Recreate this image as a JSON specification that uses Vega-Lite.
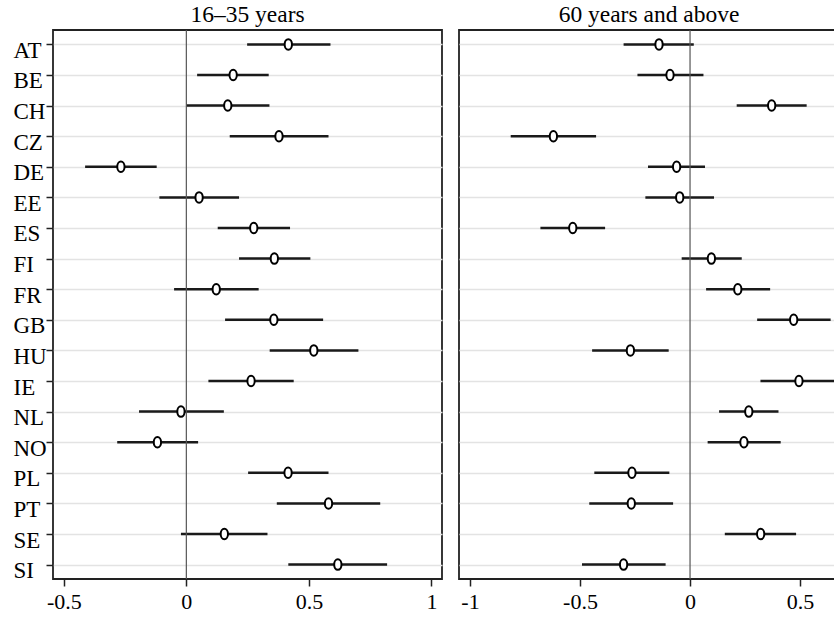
{
  "$schema": "https://vega.github.io/schema/vega-lite/v6.json",
  "padding": {"left": 12, "top": 2, "right": 0, "bottom": 0},
  "background": "white",
  "config": {
    "font": "Liberation Serif",
    "view": {"stroke": "#222222", "strokeWidth": 1.8},
    "title": {"font": "Liberation Serif", "fontSize": 23.5, "fontWeight": "normal", "color": "#000000", "offset": 3},
    "axis": {
      "labelFont": "Liberation Serif", "labelFontSize": 22, "labelColor": "#000000",
      "tickColor": "#222222", "tickWidth": 1.5, "domain": false, "title": null,
      "gridColor": "#e3e3e3", "gridWidth": 1.3
    }
  },
  "datasets": {
    "est": [
      {"country": "AT", "group": "young", "est": 0.416, "lo": 0.248, "hi": 0.588},
      {"country": "BE", "group": "young", "est": 0.191, "lo": 0.044, "hi": 0.336},
      {"country": "CH", "group": "young", "est": 0.169, "lo": 0.0, "hi": 0.339},
      {"country": "CZ", "group": "young", "est": 0.378, "lo": 0.177, "hi": 0.580},
      {"country": "DE", "group": "young", "est": -0.267, "lo": -0.413, "hi": -0.121},
      {"country": "EE", "group": "young", "est": 0.052, "lo": -0.110, "hi": 0.215},
      {"country": "ES", "group": "young", "est": 0.275, "lo": 0.128, "hi": 0.423},
      {"country": "FI", "group": "young", "est": 0.359, "lo": 0.215, "hi": 0.506},
      {"country": "FR", "group": "young", "est": 0.122, "lo": -0.050, "hi": 0.295},
      {"country": "GB", "group": "young", "est": 0.357, "lo": 0.158, "hi": 0.558},
      {"country": "HU", "group": "young", "est": 0.520, "lo": 0.340, "hi": 0.702},
      {"country": "IE", "group": "young", "est": 0.264, "lo": 0.090, "hi": 0.438},
      {"country": "NL", "group": "young", "est": -0.022, "lo": -0.193, "hi": 0.153},
      {"country": "NO", "group": "young", "est": -0.118, "lo": -0.282, "hi": 0.048},
      {"country": "PL", "group": "young", "est": 0.415, "lo": 0.252, "hi": 0.580},
      {"country": "PT", "group": "young", "est": 0.580, "lo": 0.369, "hi": 0.791},
      {"country": "SE", "group": "young", "est": 0.155, "lo": -0.022, "hi": 0.331},
      {"country": "SI", "group": "young", "est": 0.618, "lo": 0.416, "hi": 0.819},
      {"country": "AT", "group": "old", "est": -0.141, "lo": -0.302, "hi": 0.017},
      {"country": "BE", "group": "old", "est": -0.091, "lo": -0.239, "hi": 0.061},
      {"country": "CH", "group": "old", "est": 0.371, "lo": 0.212, "hi": 0.530},
      {"country": "CZ", "group": "old", "est": -0.621, "lo": -0.815, "hi": -0.427},
      {"country": "DE", "group": "old", "est": -0.061, "lo": -0.191, "hi": 0.068},
      {"country": "EE", "group": "old", "est": -0.047, "lo": -0.203, "hi": 0.109},
      {"country": "ES", "group": "old", "est": -0.533, "lo": -0.680, "hi": -0.386},
      {"country": "FI", "group": "old", "est": 0.097, "lo": -0.038, "hi": 0.235},
      {"country": "FR", "group": "old", "est": 0.217, "lo": 0.073, "hi": 0.364},
      {"country": "GB", "group": "old", "est": 0.471, "lo": 0.305, "hi": 0.639},
      {"country": "HU", "group": "old", "est": -0.271, "lo": -0.445, "hi": -0.097},
      {"country": "IE", "group": "old", "est": 0.495, "lo": 0.320, "hi": 0.680},
      {"country": "NL", "group": "old", "est": 0.267, "lo": 0.132, "hi": 0.402},
      {"country": "NO", "group": "old", "est": 0.245, "lo": 0.080, "hi": 0.412},
      {"country": "PL", "group": "old", "est": -0.264, "lo": -0.435, "hi": -0.094},
      {"country": "PT", "group": "old", "est": -0.267, "lo": -0.458, "hi": -0.077},
      {"country": "SE", "group": "old", "est": 0.321, "lo": 0.158, "hi": 0.482},
      {"country": "SI", "group": "old", "est": -0.302, "lo": -0.491, "hi": -0.111}
    ],
    "zero": [{"v": 0}]
  },
  "spacing": 15,
  "hconcat": [
    {
      "title": "16–35 years",
      "width": 389,
      "height": 549,
      "layer": [
        {
          "data": {"name": "est"},
          "transform": [{"filter": "datum.group == 'young'"}],
          "mark": {"type": "rule", "color": "#1a1a1a", "strokeWidth": 2.5},
          "encoding": {
            "x": {"field": "lo", "type": "quantitative",
                  "scale": {"domain": [-0.544, 1.043], "nice": false, "zero": false},
                  "axis": {"values": [-0.5, 0, 0.5, 1], "grid": false, "tickSize": 7, "labelPadding": 5, "labelExpr": "'' + datum.value"}},
            "x2": {"field": "hi"},
            "y": {"field": "country", "type": "nominal", "sort": null,
                  "scale": {"type": "point", "padding": 0.47},
                  "axis": {"grid": true, "ticks": true, "tickSize": 7, "labelFontSize": 23, "labelAlign": "left", "labelPadding": 33, "labelBaseline": "middle", "labelOffset": 6}}
          }
        },
        {
          "data": {"name": "zero"},
          "mark": {"type": "rule", "color": "#555555", "strokeWidth": 1.2},
          "encoding": {
            "x": {"field": "v", "type": "quantitative",
                  "scale": {"domain": [-0.544, 1.043], "nice": false, "zero": false}}
          }
        },
        {
          "data": {"name": "est"},
          "transform": [{"filter": "datum.group == 'young'"}],
          "mark": {"type": "point", "shape": "M0,-1 A0.7,1 0 1,1 0,1 A0.7,1 0 1,1 0,-1 Z", "size": 110, "filled": false, "fill": "white", "fillOpacity": 1, "stroke": "#000000", "strokeWidth": 2, "opacity": 1},
          "encoding": {
            "x": {"field": "est", "type": "quantitative",
                  "scale": {"domain": [-0.544, 1.043], "nice": false, "zero": false}},
            "y": {"field": "country", "type": "nominal", "sort": null,
                  "scale": {"type": "point", "padding": 0.47}}
          }
        }
      ]
    },
    {
      "title": "60 years and above",
      "width": 380,
      "height": 549,
      "layer": [
        {
          "data": {"name": "est"},
          "transform": [{"filter": "datum.group == 'old'"}],
          "mark": {"type": "rule", "color": "#1a1a1a", "strokeWidth": 2.5},
          "encoding": {
            "x": {"field": "lo", "type": "quantitative",
                  "scale": {"domain": [-1.05, 0.677], "nice": false, "zero": false},
                  "axis": {"values": [-1, -0.5, 0, 0.5], "grid": false, "tickSize": 7, "labelPadding": 5, "labelExpr": "'' + datum.value"}},
            "x2": {"field": "hi"},
            "y": {"field": "country", "type": "nominal", "sort": null,
                  "scale": {"type": "point", "padding": 0.47},
                  "axis": {"grid": true, "ticks": false, "labels": false}}
          }
        },
        {
          "data": {"name": "zero"},
          "mark": {"type": "rule", "color": "#555555", "strokeWidth": 1.2},
          "encoding": {
            "x": {"field": "v", "type": "quantitative",
                  "scale": {"domain": [-1.05, 0.677], "nice": false, "zero": false}}
          }
        },
        {
          "data": {"name": "est"},
          "transform": [{"filter": "datum.group == 'old'"}],
          "mark": {"type": "point", "shape": "M0,-1 A0.7,1 0 1,1 0,1 A0.7,1 0 1,1 0,-1 Z", "size": 110, "filled": false, "fill": "white", "fillOpacity": 1, "stroke": "#000000", "strokeWidth": 2, "opacity": 1},
          "encoding": {
            "x": {"field": "est", "type": "quantitative",
                  "scale": {"domain": [-1.05, 0.677], "nice": false, "zero": false}},
            "y": {"field": "country", "type": "nominal", "sort": null,
                  "scale": {"type": "point", "padding": 0.47}}
          }
        }
      ]
    }
  ]
}
